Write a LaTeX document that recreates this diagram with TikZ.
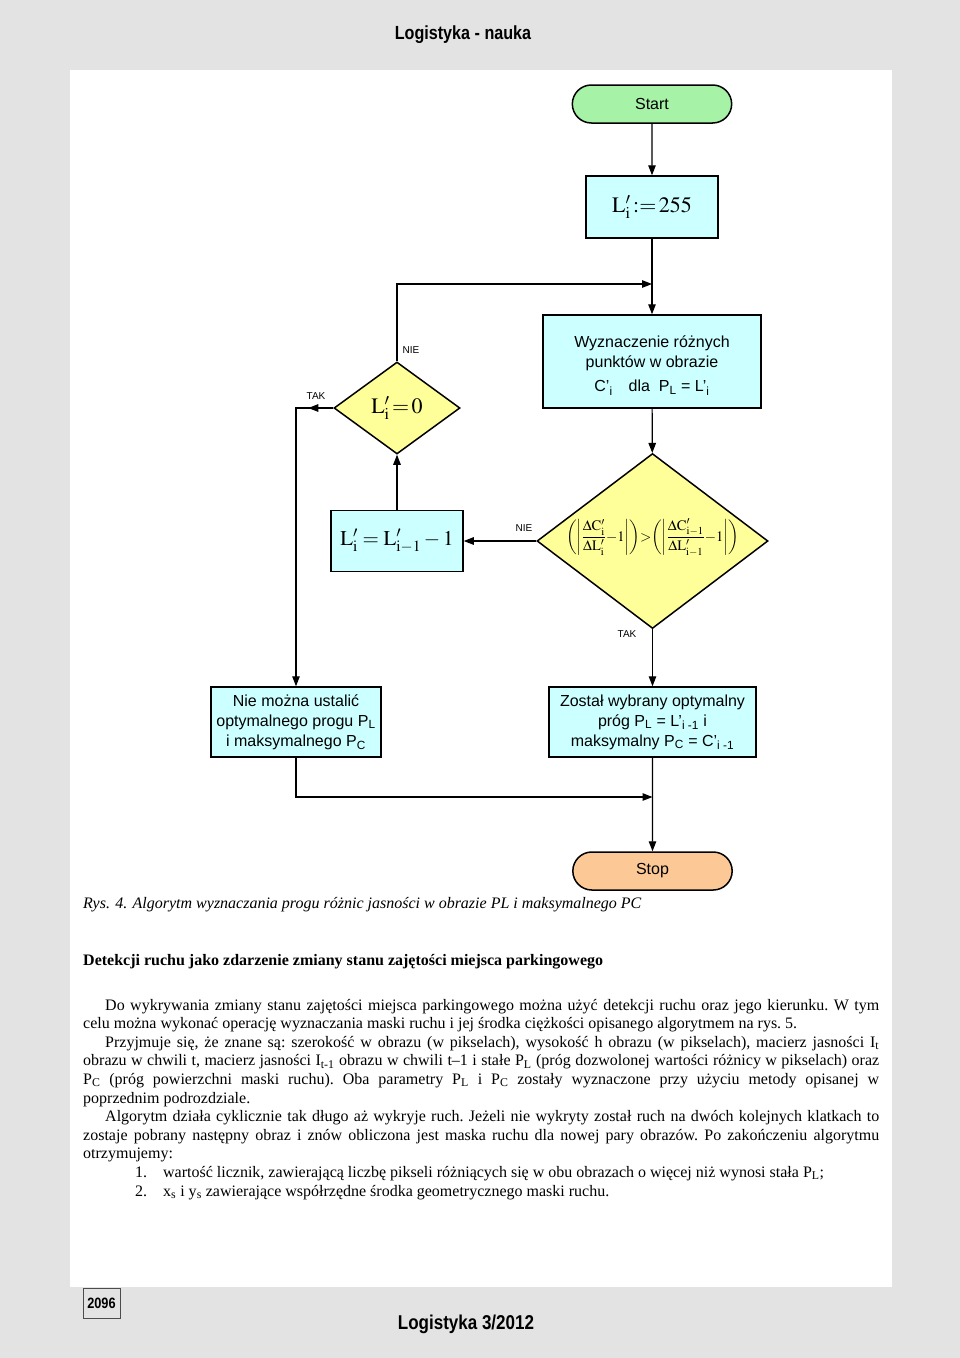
\documentclass[tikz,border=0pt]{standalone}
\usepackage{amsmath}
\usepackage{mathptmx}
\usepackage[no-math]{fontspec}
\setmainfont{Liberation Serif}
\setsansfont{Liberation Sans}
\newfontfamily\headfont[FakeStretch=0.85]{Liberation Sans}
\usetikzlibrary{arrows.meta, shapes.geometric, shapes.misc, decorations.markings}
\definecolor{pagegray}{HTML}{E3E3E3}
\definecolor{boxcyan}{HTML}{CCFFFF}
\definecolor{decyellow}{HTML}{FFFF99}
\definecolor{startgreen}{HTML}{A6F2A6}
\definecolor{stoporange}{HTML}{FCC996}

\begin{document}
\begin{tikzpicture}[x=1pt, y=-1pt,
  >={Triangle[length=10pt,width=7.5pt]},
  process/.style={draw, line width=1.5pt, fill=boxcyan, rectangle, inner sep=0pt,
    align=center, font=\sffamily\fontsize{16}{20}\selectfont},
  decision/.style={draw, line width=1.5pt, fill=decyellow, diamond, inner sep=0pt},
  terminal/.style={draw, line width=1.5pt, rounded rectangle, minimum width=166pt,
    minimum height=38pt, font=\sffamily\fontsize{16}{20}\selectfont},
  flow/.style={line width=1.2pt, ->},
  answer/.style={font=\sffamily\fontsize{10}{12}\selectfont, inner sep=0pt}]

  % strona
  \useasboundingbox (0,0) rectangle (960,1358);
  \fill[pagegray] (0,0) rectangle (960,1358);
  \fill[white] (70,70) rectangle (892,1287);
  \node[font=\headfont\bfseries\fontsize{19}{22}\selectfont] (header) at (463,35) {Logistyka - nauka};

  % bloki algorytmu
  \node[terminal, fill=startgreen] (start) at (652,104) {Start};
  \node[process, minimum width=132pt, minimum height=62pt, font=\fontsize{22}{26}\selectfont]
    (init) at (652,207) {$\mathrm{L}'_{\mathrm{i}}\!:=\!255$};
  \node[process, minimum width=218pt, minimum height=93pt] (points) at (652,361.5)
    {\rule{0pt}{20pt}Wyznaczenie różnych\\punktów w obrazie\\[4pt]C’\textsubscript{i}\quad dla\ \ P\textsubscript{L} = L’\textsubscript{i}};
  \node[decision, minimum width=126pt, minimum height=92pt, font=\fontsize{22}{26}\selectfont]
    (zero) at (397,408) {$\mathrm{L}'_{\mathrm{i}}\!=\!0$};
  \node[process, minimum width=132pt, minimum height=61pt, font=\fontsize{21}{25}\selectfont]
    (dec) at (397,541) {$\mathrm{L}'_{\mathrm{i}}=\mathrm{L}'_{\mathrm{i}-1}-1$};
  \node[decision, minimum width=231pt, minimum height=175pt, aspect=1.32, font=\fontsize{14.5}{17}\selectfont]
    (cmp) at (652.5,541) {\smash{\makebox[140pt]{$\left(\left|\dfrac{\Delta\mathrm{C}'_{\mathrm{i}}}{\Delta\mathrm{L}'_{\mathrm{i}}}{-}1\right|\right)\!\mathord{>}\!
      \left(\left|\dfrac{\Delta\mathrm{C}'_{\mathrm{i}-1}}{\Delta\mathrm{L}'_{\mathrm{i}-1}}{-}1\right|\right)$}}};
  \node[process, minimum width=170pt, minimum height=70pt] (fail) at (296,722)
    {Nie można ustalić\\optymalnego progu P\textsubscript{L}\\i maksymalnego P\textsubscript{C}};
  \node[process, minimum width=207pt, minimum height=70pt] (found) at (652.5,722)
    {Został wybrany optymalny\\próg P\textsubscript{L} = L’\textsubscript{i -1} i\\maksymalny P\textsubscript{C} = C’\textsubscript{i -1}};
  \node[terminal, fill=stoporange] (stop) at (652.5,871) {Stop};

  \coordinate (join) at (652,284);
  \coordinate (merge) at (652.5,797);

  % polaczenia
  \draw[flow] (start) -- (init);
  \draw[flow] (init) -- (points);
  \draw[flow] (zero.north) |- (join);
  \draw[flow] (points) -- (cmp);
  \draw[flow] (cmp.west) -- (dec.east);
  \draw[flow] (dec) -- (zero);
  \draw[flow] (cmp) -- (found);
  \draw[flow,
    decoration={markings, mark=at position 25pt with {\arrow{>}}},
    postaction={decorate}
    ] (zero.west) -| (fail.north);
  \draw[flow] (fail.south) |- (merge);
  \draw[flow] (found) -- (stop);

  \node[answer] (nie1) at (411,350) {NIE};
  \node[answer] (tak1) at (316,396) {TAK};
  \node[answer] (nie2) at (524,528) {NIE};
  \node[answer] (tak2) at (627,634) {TAK};

  % tekst
  \node[anchor=base west, inner sep=0pt, font=\itshape\fontsize{16}{18.6}\selectfont] (caption) at (83,908)
    {Rys. 4. Algorytm wyznaczania progu różnic jasności w obrazie PL i maksymalnego PC};
  \node[anchor=base west, inner sep=0pt, font=\bfseries\fontsize{16}{18.6}\selectfont] (heading) at (83,965)
    {Detekcji ruchu jako zdarzenie zmiany stanu zajętości miejsca parkingowego};
  \node[anchor=base west, inner sep=0pt, text width=796pt, align=justify, font=\fontsize{16}{18.6}\selectfont]
    (body) at (83,1010) {\frenchspacing\setlength{\parindent}{22pt}\hspace*{22pt}%
    Do wykrywania zmiany stanu zajętości miejsca parkingowego można użyć detekcji ruchu oraz jego kierunku. W tym\linebreak
    celu można wykonać operację wyznaczania maski ruchu i jej środka ciężkości opisanego algorytmem na rys. 5.\par
    Przyjmuje się, że znane są: szerokość w obrazu (w pikselach), wysokość h obrazu (w pikselach), macierz jasności I\textsubscript{t}\linebreak
    obrazu w chwili t, macierz jasności I\textsubscript{t-1} obrazu w chwili t–1 i stałe P\textsubscript{L} (próg dozwolonej wartości różnicy w pikselach) oraz\linebreak
    P\textsubscript{C} (próg powierzchni maski ruchu). Oba parametry P\textsubscript{L} i P\textsubscript{C} zostały wyznaczone przy użyciu metody opisanej w\linebreak
    poprzednim podrozdziale.\par
    Algorytm działa cyklicznie tak długo aż wykryje ruch. Jeżeli nie wykryty został ruch na dwóch kolejnych klatkach to\linebreak
    zostaje pobrany następny obraz i znów obliczona jest maska ruchu dla nowej pary obrazów. Po zakończeniu algorytmu\linebreak
    otrzymujemy:\par
    \noindent\hspace*{52pt}\makebox[28pt][l]{1.}wartość licznik, zawierającą liczbę pikseli różniących się w obu obrazach o więcej niż wynosi stała P\textsubscript{L};\par
    \noindent\hspace*{52pt}\makebox[28pt][l]{2.}x\textsubscript{s} i y\textsubscript{s} zawierające współrzędne środka geometrycznego maski ruchu.\par};

  % stopka
  \node[draw=black!70, fill=pagegray, line width=0.8pt, minimum width=37pt, minimum height=30pt, inner sep=0pt,
    font=\headfont\bfseries\fontsize{15}{18}\selectfont] (pagenum) at (101.5,1303) {2096};
  \node[font=\headfont\bfseries\fontsize{20}{24}\selectfont] (journal) at (466,1324) {Logistyka 3/2012};
\end{tikzpicture}
\end{document}
